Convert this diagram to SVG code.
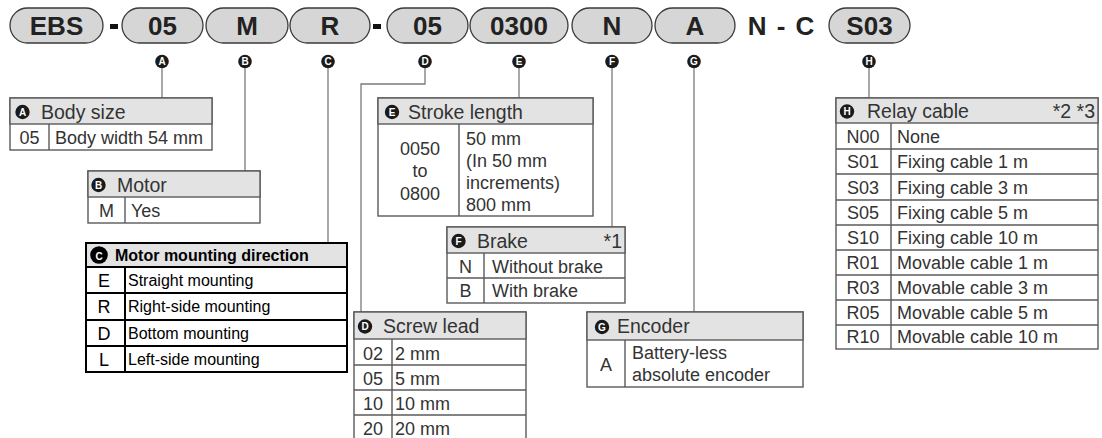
<svg xmlns="http://www.w3.org/2000/svg" width="1102" height="438" viewBox="0 0 1102 438">
<style>
.pill{fill:#d6d6d6;stroke:#3a3a3a;stroke-width:1.3}
.pt{font-family:"Liberation Sans",Arial,sans-serif;font-weight:bold;font-size:26px;fill:#222;text-anchor:middle}
.dash{fill:#111}
.badge{fill:#1a1a1a}
.bl{font-family:"Liberation Sans",Arial,sans-serif;font-weight:bold;font-size:10px;fill:#fff;text-anchor:middle}
.conn{fill:none;stroke:#7a7a7a;stroke-width:1.3}
.tb{fill:#fff;stroke:#5a5a5a;stroke-width:1.4}
.hd{fill:#e3e3e3;stroke:#5a5a5a;stroke-width:1.4}
.ln{stroke:#5a5a5a;stroke-width:1.4}
.ht{font-family:"Liberation Sans",Arial,sans-serif;font-size:19.5px;fill:#333}
.t{font-family:"Liberation Sans",Arial,sans-serif;font-size:18px;fill:#333}
.c{text-anchor:middle}
.r{text-anchor:end}
.tbk{fill:#fff;stroke:#000;stroke-width:2}
.hdk{fill:#e3e3e3;stroke:#000;stroke-width:2}
.lnk{stroke:#000;stroke-width:2}
.htk{font-family:"Liberation Sans",Arial,sans-serif;font-weight:bold;font-size:16px;fill:#000}
.tk{font-family:"Liberation Sans",Arial,sans-serif;font-size:16px;fill:#000}
.tkc{font-family:"Liberation Sans",Arial,sans-serif;font-size:18px;fill:#000;text-anchor:middle}
</style>

<g id="model-code">
  <rect class="pill" x="10" y="8" width="93" height="35" rx="17.5"/>
  <text class="pt" x="56.5" y="35">EBS</text>
  <rect class="dash" x="110" y="24" width="8" height="5"/>
  <rect class="pill" x="122" y="8" width="81" height="35" rx="17.5"/>
  <text class="pt" x="162.5" y="35">05</text>
  <rect class="pill" x="206" y="8" width="82" height="35" rx="17.5"/>
  <text class="pt" x="247" y="35">M</text>
  <rect class="pill" x="290" y="8" width="80" height="35" rx="17.5"/>
  <text class="pt" x="330" y="35">R</text>
  <rect class="dash" x="373" y="24" width="8" height="5"/>
  <rect class="pill" x="387" y="8" width="81" height="35" rx="17.5"/>
  <text class="pt" x="427.5" y="35">05</text>
  <rect class="pill" x="470" y="8" width="98" height="35" rx="17.5"/>
  <text class="pt" x="519" y="35">0300</text>
  <rect class="pill" x="572" y="8" width="80" height="35" rx="17.5"/>
  <text class="pt" x="612" y="35">N</text>
  <rect class="pill" x="655" y="8" width="80" height="35" rx="17.5"/>
  <text class="pt" x="695" y="35">A</text>
  <text class="pt" x="781" y="35" word-spacing="3">N - C</text>
  <rect class="pill" x="829" y="8" width="81" height="35" rx="17.5"/>
  <text class="pt" x="869.5" y="35">S03</text>
</g>

<g id="badges">
  <circle class="badge" cx="162" cy="61.5" r="6.8"/><text class="bl" x="162" y="65">A</text>
  <circle class="badge" cx="245" cy="61.5" r="6.8"/><text class="bl" x="245" y="65">B</text>
  <circle class="badge" cx="328" cy="61.5" r="6.8"/><text class="bl" x="328" y="65">C</text>
  <circle class="badge" cx="425" cy="61.5" r="6.8"/><text class="bl" x="425" y="65">D</text>
  <circle class="badge" cx="519" cy="61.5" r="6.8"/><text class="bl" x="519" y="65">E</text>
  <circle class="badge" cx="612" cy="61.5" r="6.8"/><text class="bl" x="612" y="65">F</text>
  <circle class="badge" cx="694" cy="61.5" r="6.8"/><text class="bl" x="694" y="65">G</text>
  <circle class="badge" cx="869" cy="61.5" r="6.8"/><text class="bl" x="869" y="65">H</text>
</g>

<g id="connectors">
  <path class="conn" d="M162 68 V98"/>
  <path class="conn" d="M245 68 V171"/>
  <path class="conn" d="M328 68 V243"/>
  <path class="conn" d="M425 68 V84 H361 V312"/>
  <path class="conn" d="M519 68 V98"/>
  <path class="conn" d="M612 68 V227"/>
  <path class="conn" d="M694 68 V312"/>
  <path class="conn" d="M869 68 V98"/>
</g>

<g id="body-size">
  <rect class="tb" x="10" y="98" width="202" height="52"/>
  <rect class="hd" x="10" y="98" width="202" height="26"/>
  <line class="ln" x1="49" y1="124" x2="49" y2="150"/>
  <circle class="badge" cx="22.5" cy="112" r="7.2"/><text class="bl" x="22.5" y="115.7">A</text>
  <text class="ht" x="41" y="119">Body size</text>
  <text class="t c" x="29.5" y="144">05</text>
  <text class="t" x="55" y="144">Body width 54 mm</text>
</g>

<g id="motor">
  <rect class="tb" x="88" y="171" width="172" height="52"/>
  <rect class="hd" x="88" y="171" width="172" height="26"/>
  <line class="ln" x1="125" y1="197" x2="125" y2="223"/>
  <circle class="badge" cx="98.5" cy="185" r="7.2"/><text class="bl" x="98.5" y="188.7">B</text>
  <text class="ht" x="117" y="192">Motor</text>
  <text class="t c" x="106.5" y="217">M</text>
  <text class="t" x="131" y="217">Yes</text>
</g>

<g id="motor-mounting">
  <rect class="tbk" x="86" y="243" width="261" height="129"/>
  <rect class="hdk" x="86" y="243" width="261" height="24"/>
  <line class="lnk" x1="86" y1="293" x2="347" y2="293"/>
  <line class="lnk" x1="86" y1="320" x2="347" y2="320"/>
  <line class="lnk" x1="86" y1="346" x2="347" y2="346"/>
  <line class="lnk" x1="125" y1="267" x2="125" y2="372"/>
  <circle cx="99" cy="255" r="8.8" fill="#000"/><text class="bl" x="99" y="259.5" font-size="13">C</text>
  <text class="htk" x="115" y="260.5">Motor mounting direction</text>
  <text class="tkc" x="104" y="287">E</text><text class="tk" x="128" y="286">Straight mounting</text>
  <text class="tkc" x="104" y="313">R</text><text class="tk" x="128" y="312">Right-side mounting</text>
  <text class="tkc" x="104" y="340">D</text><text class="tk" x="128" y="339">Bottom mounting</text>
  <text class="tkc" x="104" y="366">L</text><text class="tk" x="128" y="365">Left-side mounting</text>
</g>

<g id="stroke-length">
  <rect class="tb" x="378" y="98" width="215" height="118"/>
  <rect class="hd" x="378" y="98" width="215" height="26"/>
  <line class="ln" x1="459" y1="124" x2="459" y2="216"/>
  <circle class="badge" cx="392" cy="112" r="7.2"/><text class="bl" x="392" y="115.7">E</text>
  <text class="ht" x="408" y="119">Stroke length</text>
  <text class="t c" x="420" y="155">0050</text>
  <text class="t c" x="420" y="177">to</text>
  <text class="t c" x="420" y="200">0800</text>
  <text class="t" x="466" y="145">50 mm</text>
  <text class="t" x="466" y="167">(In 50 mm</text>
  <text class="t" x="466" y="189">increments)</text>
  <text class="t" x="466" y="211">800 mm</text>
</g>

<g id="brake">
  <rect class="tb" x="447" y="227" width="178" height="76"/>
  <rect class="hd" x="447" y="227" width="178" height="26"/>
  <line class="ln" x1="447" y1="278" x2="625" y2="278"/>
  <line class="ln" x1="484" y1="253" x2="484" y2="303"/>
  <circle class="badge" cx="458.5" cy="241" r="7.2"/><text class="bl" x="458.5" y="244.7">F</text>
  <text class="ht" x="477" y="248">Brake</text>
  <text class="ht r" x="622" y="248">*1</text>
  <text class="t c" x="465.5" y="273">N</text><text class="t" x="492" y="273">Without brake</text>
  <text class="t c" x="465.5" y="297">B</text><text class="t" x="492" y="297">With brake</text>
</g>

<g id="screw-lead">
  <rect class="tb" x="354" y="312" width="172" height="130"/>
  <rect class="hd" x="354" y="312" width="172" height="27"/>
  <line class="ln" x1="354" y1="365" x2="526" y2="365"/>
  <line class="ln" x1="354" y1="390" x2="526" y2="390"/>
  <line class="ln" x1="354" y1="415" x2="526" y2="415"/>
  <line class="ln" x1="392" y1="339" x2="392" y2="442"/>
  <circle class="badge" cx="365" cy="326.5" r="7.2"/><text class="bl" x="365" y="330.2">D</text>
  <text class="ht" x="383" y="333">Screw lead</text>
  <text class="t c" x="373" y="360">02</text><text class="t" x="395" y="360">2 mm</text>
  <text class="t c" x="373" y="385">05</text><text class="t" x="395" y="385">5 mm</text>
  <text class="t c" x="373" y="410">10</text><text class="t" x="395" y="410">10 mm</text>
  <text class="t c" x="373" y="435">20</text><text class="t" x="395" y="435">20 mm</text>
</g>

<g id="encoder">
  <rect class="tb" x="587" y="312" width="216" height="75"/>
  <rect class="hd" x="587" y="312" width="216" height="28"/>
  <line class="ln" x1="625" y1="340" x2="625" y2="387"/>
  <circle class="badge" cx="602" cy="327" r="7.2"/><text class="bl" x="602" y="330.7">G</text>
  <text class="ht" x="617" y="333">Encoder</text>
  <text class="t c" x="606" y="371">A</text>
  <text class="t" x="632" y="359">Battery-less</text>
  <text class="t" x="632" y="381">absolute encoder</text>
</g>

<g id="relay-cable">
  <rect class="tb" x="836" y="98" width="262" height="251"/>
  <rect class="hd" x="836" y="98" width="262" height="25"/>
  <line class="ln" x1="836" y1="149" x2="1098" y2="149"/>
  <line class="ln" x1="836" y1="174" x2="1098" y2="174"/>
  <line class="ln" x1="836" y1="200" x2="1098" y2="200"/>
  <line class="ln" x1="836" y1="225" x2="1098" y2="225"/>
  <line class="ln" x1="836" y1="250" x2="1098" y2="250"/>
  <line class="ln" x1="836" y1="275" x2="1098" y2="275"/>
  <line class="ln" x1="836" y1="300" x2="1098" y2="300"/>
  <line class="ln" x1="836" y1="325" x2="1098" y2="325"/>
  <line class="ln" x1="891" y1="123" x2="891" y2="349"/>
  <circle class="badge" cx="847" cy="111.5" r="7.2"/><text class="bl" x="847" y="115.2">H</text>
  <text class="ht" x="867" y="118">Relay cable</text>
  <text class="ht r" x="1095" y="118">*2 *3</text>
  <text class="t c" x="863" y="143">N00</text><text class="t" x="897" y="143">None</text>
  <text class="t c" x="863" y="168">S01</text><text class="t" x="897" y="168">Fixing cable 1 m</text>
  <text class="t c" x="863" y="194">S03</text><text class="t" x="897" y="194">Fixing cable 3 m</text>
  <text class="t c" x="863" y="219">S05</text><text class="t" x="897" y="219">Fixing cable 5 m</text>
  <text class="t c" x="863" y="244">S10</text><text class="t" x="897" y="244">Fixing cable 10 m</text>
  <text class="t c" x="863" y="269">R01</text><text class="t" x="897" y="269">Movable cable 1 m</text>
  <text class="t c" x="863" y="294">R03</text><text class="t" x="897" y="294">Movable cable 3 m</text>
  <text class="t c" x="863" y="319">R05</text><text class="t" x="897" y="319">Movable cable 5 m</text>
  <text class="t c" x="863" y="343">R10</text><text class="t" x="897" y="343">Movable cable 10 m</text>
</g>
</svg>
